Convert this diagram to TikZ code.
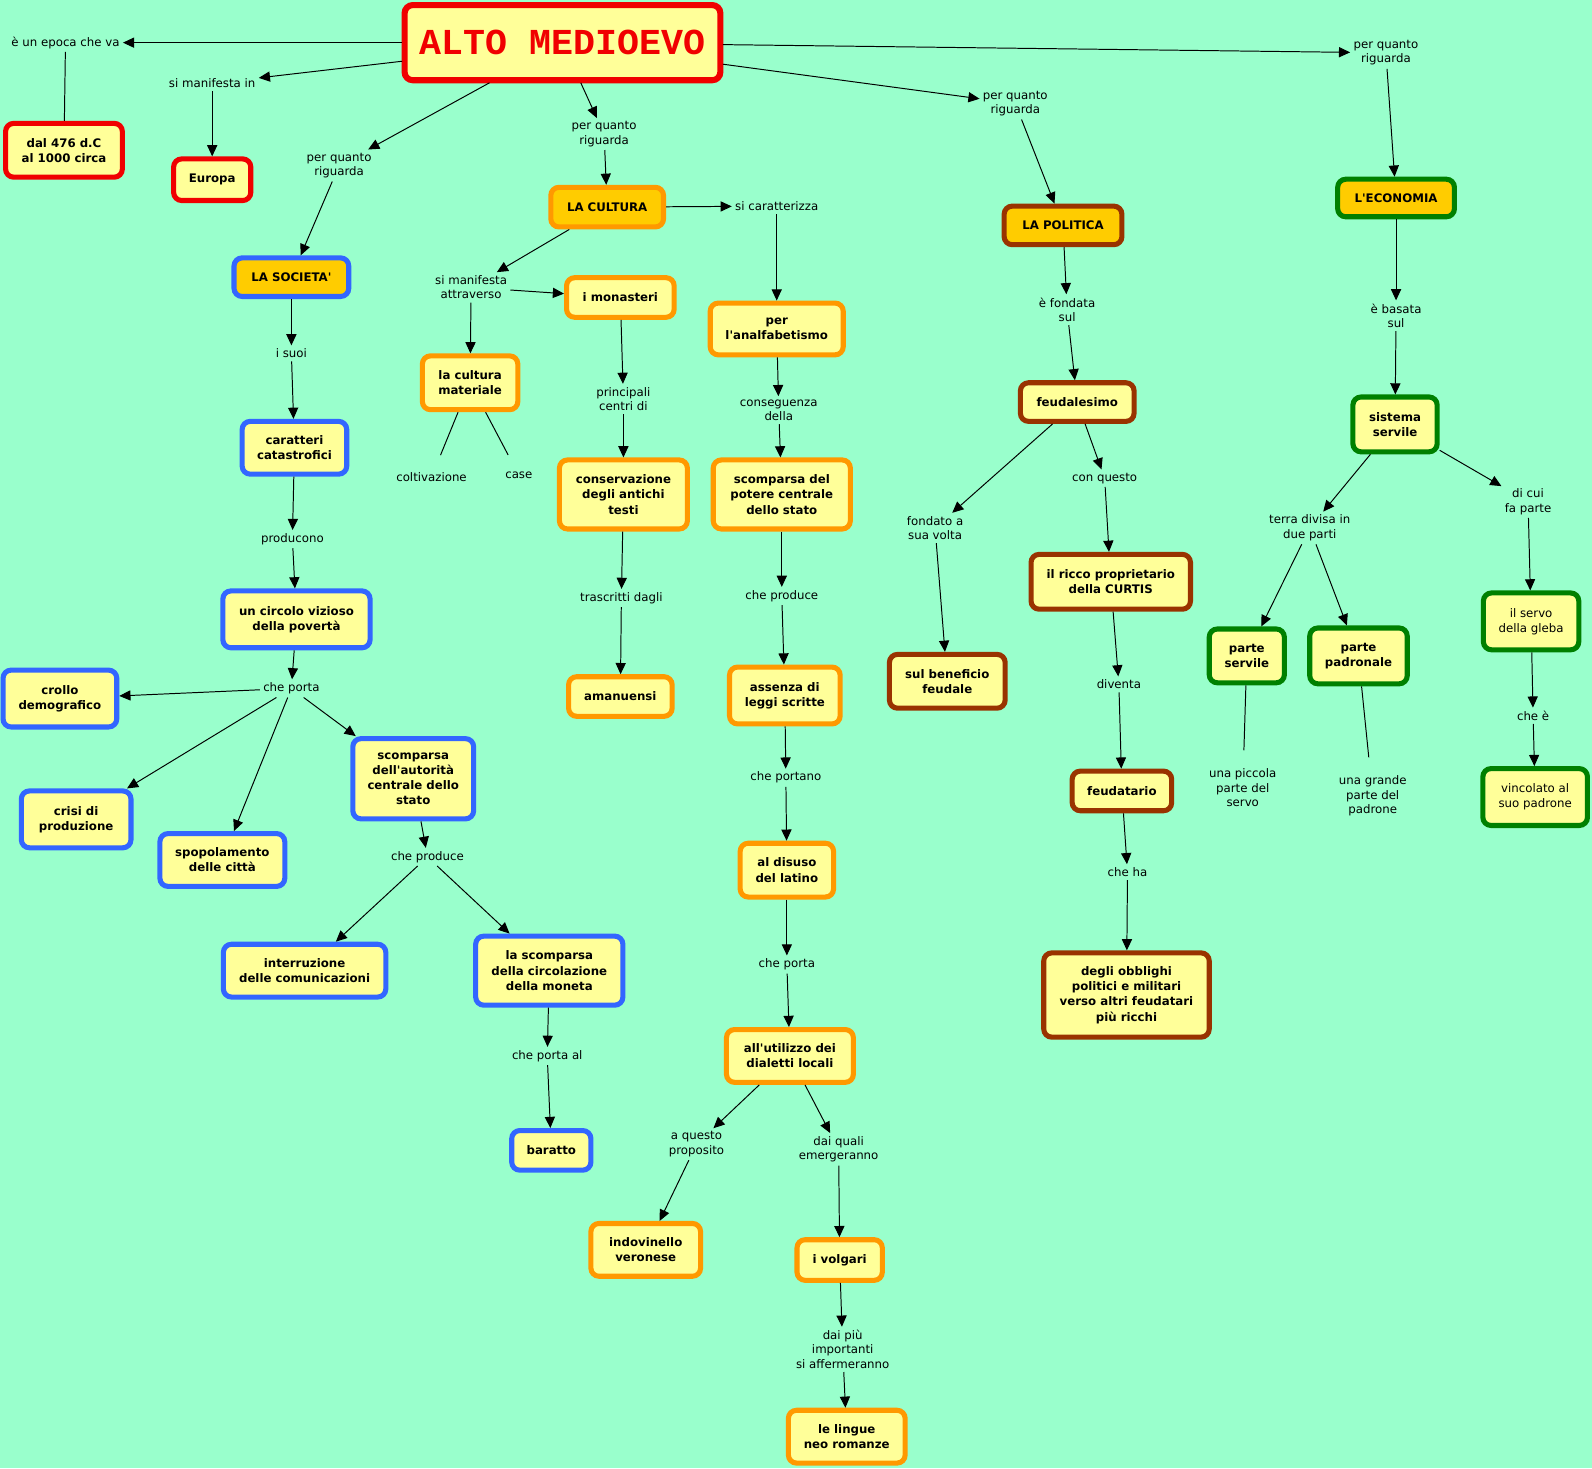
\documentclass[tikz,border=0pt]{standalone}
\usepackage{fontspec}
\setmainfont{DejaVu Sans}
\newfontfamily\titlefont{Liberation Mono}
\usetikzlibrary{arrows.meta}
\definecolor{mapbg}{RGB}{153,255,204}
\definecolor{boxyellow}{RGB}{255,255,153}
\definecolor{topicgold}{RGB}{255,204,0}
\definecolor{titlered}{RGB}{240,0,0}
\definecolor{socblue}{RGB}{51,102,255}
\definecolor{culorange}{RGB}{255,153,0}
\definecolor{polbrown}{RGB}{153,51,0}
\definecolor{ecogreen}{RGB}{0,128,0}
\newcommand\boxsize{\fontsize{6.6pt}{8.5pt}\selectfont}
\newcommand\labsize{\fontsize{6.6pt}{8.1pt}\selectfont}
\newcommand\ap{\textquotesingle}

\begin{document}
\begin{tikzpicture}[x=0.2mm, y=-0.2mm,
    concept/.style={draw, line width=1mm, rounded corners=1.6mm, fill=boxyellow, align=center, inner sep=0pt, outer sep=0.5mm, font=\bfseries\boxsize},
    dims/.style 2 args={minimum width=#1mm, minimum height=#2mm},
    topic/.style={concept, fill=topicgold},
    redbox/.style={concept, draw=titlered},
    socbox/.style={concept, draw=socblue},
    culbox/.style={concept, draw=culorange},
    polbox/.style={concept, draw=polbrown},
    ecobox/.style={concept, draw=ecogreen},
    lab/.style={align=center, inner sep=0.6mm, font=\labsize},
    link/.style={line width=0.55pt, -{Triangle[length=2.2mm, width=2mm]}},
    tie/.style={line width=0.55pt}]
    \fill[mapbg] (0,0) rectangle (1568,1446);
    \useasboundingbox (0,0) rectangle (1568,1446);

    % Title
    \node[redbox, line width=1.2mm, dims={62.2}{14.8}, text=titlered, font=\titlefont\bfseries\fontsize{20.5pt}{24pt}\selectfont] (title) at (554,42) {ALTO MEDIOEVO};
    \node[lab] (epoca) at (64.5,42) {è un epoca che va};
    \node[redbox, dims={23}{10.6}] (dal) at (63,148) {dal 476 d.C\\al 1000 circa};
    \node[lab] (manif) at (209,82) {si manifesta in};
    \node[redbox, dims={15.2}{8.2}] (europa) at (209,177) {Europa};

    % Four topics
    \node[lab] (pqrsoc) at (334,163) {per quanto\\riguarda};
    \node[topic, draw=socblue, dims={22.6}{7.6}] (societa) at (287,273) {LA SOCIETA\ap};
    \node[lab] (pqrcul) at (595,132) {per quanto\\riguarda};
    \node[topic, draw=culorange, dims={22.2}{7.8}] (cultura) at (598,204) {LA CULTURA};
    \node[lab] (pqrpol) at (1000,102) {per quanto\\riguarda};
    \node[topic, draw=polbrown, dims={23.2}{7.6}] (politica) at (1047,222) {LA POLITICA};
    \node[lab] (pqreco) at (1365,52) {per quanto\\riguarda};
    \node[topic, draw=ecogreen, dims={23}{7.4}] (economia) at (1375,195) {L\ap ECONOMIA};

    % Society
    \node[lab] (suoi) at (287,348) {i suoi};
    \node[socbox, dims={20.6}{10.4}] (caratteri) at (290,441) {caratteri\\catastrofici};
    \node[lab] (producono) at (288,531) {producono};
    \node[socbox, dims={29}{11.2}] (circolo) at (292,610) {un circolo vizioso\\della povertà};
    \node[lab] (cheporta) at (287,678) {che porta};
    \node[socbox, dims={22.4}{11.2}] (crollo) at (59,688) {crollo\\demografico};
    \node[socbox, dims={21.6}{11.2}] (crisi) at (75,807) {crisi di\\produzione};
    \node[socbox, dims={24.6}{10.4}] (spopol) at (219,847) {spopolamento\\delle città};
    \node[socbox, dims={23.8}{15.8}] (scompaut) at (407,767) {scomparsa\\dell\ap autorità\\centrale dello\\stato};
    \node[lab] (cheproduce) at (421,844) {che produce};
    \node[socbox, dims={32}{10.4}] (interruz) at (300,956) {interruzione\\delle comunicazioni};
    \node[socbox, dims={29}{13.6}] (moneta) at (541,956) {la scomparsa\\della circolazione\\della moneta};
    \node[lab] (portaal) at (539,1040) {che porta al};
    \node[socbox, dims={15.6}{7.8}] (baratto) at (543,1133) {baratto};

    % Culture
    \node[lab] (simanatt) at (464,283) {si manifesta\\attraverso};
    \node[culbox, dims={21.2}{7.8}] (monasteri) at (611,293) {i monasteri};
    \node[culbox, dims={18.8}{10.6}] (culmat) at (463,377) {la cultura\\materiale};
    \node[lab] (coltiv) at (425,470) {coltivazione};
    \node[lab] (case) at (511,468) {case};
    \node[lab] (princ) at (614,393) {principali\\centri di};
    \node[culbox, dims={25.2}{13.6}] (conserv) at (614,487) {conservazione\\degli antichi\\testi};
    \node[lab] (trascr) at (612,589) {trascritti dagli};
    \node[culbox, dims={20.4}{7.8}] (amanuensi) at (611,686) {amanuensi};
    \node[lab] (sicar) at (765,203) {si caratterizza};
    \node[culbox, dims={26.2}{10.2}] (analf) at (765,324) {per\\l\ap analfabetismo};
    \node[lab] (conseg) at (767,404) {conseguenza\\della};
    \node[culbox, dims={27}{13.6}] (scompot) at (770,487) {scomparsa del\\potere centrale\\dello stato};
    \node[lab] (produce2) at (770,587) {che produce};
    \node[culbox, dims={21.8}{11.2}] (assenza) at (773,685) {assenza di\\leggi scritte};
    \node[lab] (portano) at (774,766) {che portano};
    \node[culbox, dims={18.4}{10.6}] (disuso) at (775,857) {al disuso\\del latino};
    \node[lab] (porta2) at (775,950) {che porta};
    \node[culbox, dims={25}{10.4}] (dialetti) at (778,1040) {all\ap utilizzo dei\\dialetti locali};
    \node[lab] (aquesto) at (686,1127) {a questo\\proposito};
    \node[culbox, dims={21.6}{10.4}] (indovin) at (636,1231) {indovinello\\veronese};
    \node[lab] (daiquali) at (826,1132) {dai quali\\emergeranno};
    \node[culbox, dims={16.8}{8}] (volgari) at (827,1241) {i volgari};
    \node[lab] (daipiu) at (830,1329) {dai più\\importanti\\si affermeranno};
    \node[culbox, dims={23}{10.4}] (lingue) at (834,1415) {le lingue\\neo romanze};

    % Politics
    \node[lab] (fondata) at (1051,305) {è fondata\\sul};
    \node[polbox, dims={22.4}{7.6}] (feudal) at (1061,396) {feudalesimo};
    \node[lab] (fondatoa) at (921,520) {fondato a\\sua volta};
    \node[polbox, dims={22.8}{10.6}] (benef) at (933,671) {sul beneficio\\feudale};
    \node[lab] (conquesto) at (1088,471) {con questo};
    \node[polbox, dims={31.4}{10.8}] (ricco) at (1094,573) {il ricco proprietario\\della CURTIS};
    \node[lab] (diventa) at (1102,674) {diventa};
    \node[polbox, dims={19.6}{7.8}] (feudat) at (1105,779) {feudatario};
    \node[lab] (cheha) at (1110.5,859) {che ha};
    \node[polbox, dims={32.6}{16.6}] (obblighi) at (1109.5,980) {degli obblighi\\politici e militari\\verso altri feudatari\\più ricchi};

    % Economy
    \node[lab] (basata) at (1375,311) {è basata\\sul};
    \node[ecobox, dims={16.6}{10.8}] (sistema) at (1374,418) {sistema\\servile};
    \node[lab] (terra) at (1290,520) {terra divisa in\\due parti};
    \node[ecobox, dims={14.8}{10.6}] (pservile) at (1228,646) {parte\\servile};
    \node[ecobox, dims={19.2}{11}] (ppadron) at (1338,646) {parte\\padronale};
    \node[lab] (piccola) at (1224,776) {una piccola\\parte del\\servo};
    \node[lab] (grande) at (1352,784) {una grande\\parte del\\padrone};
    \node[lab] (dicui) at (1505,494) {di cui\\fa parte};
    \node[ecobox, dims={18.8}{11.2}, font=\boxsize] (servo) at (1508,612) {il servo\\della gleba};
    \node[lab] (chee) at (1510,705) {che è};
    \node[ecobox, dims={20.6}{11.2}, font=\boxsize] (vincolo) at (1512,785) {vincolato al\\suo padrone};

    % Links
    \foreach \a/\b in {title/epoca, title/manif, manif/europa,
        title/pqrsoc, pqrsoc/societa, title/pqrcul, pqrcul/cultura,
        title/pqrpol, pqrpol/politica, title/pqreco, pqreco/economia,
        societa/suoi, suoi/caratteri, caratteri/producono, producono/circolo,
        circolo/cheporta, cheporta/crollo, cheporta/crisi, cheporta/spopol,
        cheporta/scompaut, scompaut/cheproduce, cheproduce/interruz,
        cheproduce/moneta, moneta/portaal, portaal/baratto,
        cultura/simanatt, simanatt/monasteri, simanatt/culmat,
        monasteri/princ, princ/conserv, conserv/trascr, trascr/amanuensi,
        cultura/sicar, sicar/analf, analf/conseg, conseg/scompot,
        scompot/produce2, produce2/assenza, assenza/portano, portano/disuso,
        disuso/porta2, porta2/dialetti, dialetti/aquesto, aquesto/indovin,
        dialetti/daiquali, daiquali/volgari, volgari/daipiu, daipiu/lingue,
        politica/fondata, fondata/feudal, feudal/fondatoa, fondatoa/benef,
        feudal/conquesto, conquesto/ricco, ricco/diventa, diventa/feudat,
        feudat/cheha, cheha/obblighi,
        economia/basata, basata/sistema, sistema/terra, terra/pservile,
        terra/ppadron, sistema/dicui, dicui/servo, servo/chee, chee/vincolo}
        \draw[link] (\a) -- (\b);

    % Plain lines
    \draw[tie] (epoca) -- (dal);
    \foreach \a/\b in {culmat/coltiv, culmat/case, pservile/piccola, ppadron/grande}
        \draw[tie, shorten >=3mm] (\a) -- (\b);
\end{tikzpicture}
\end{document}
